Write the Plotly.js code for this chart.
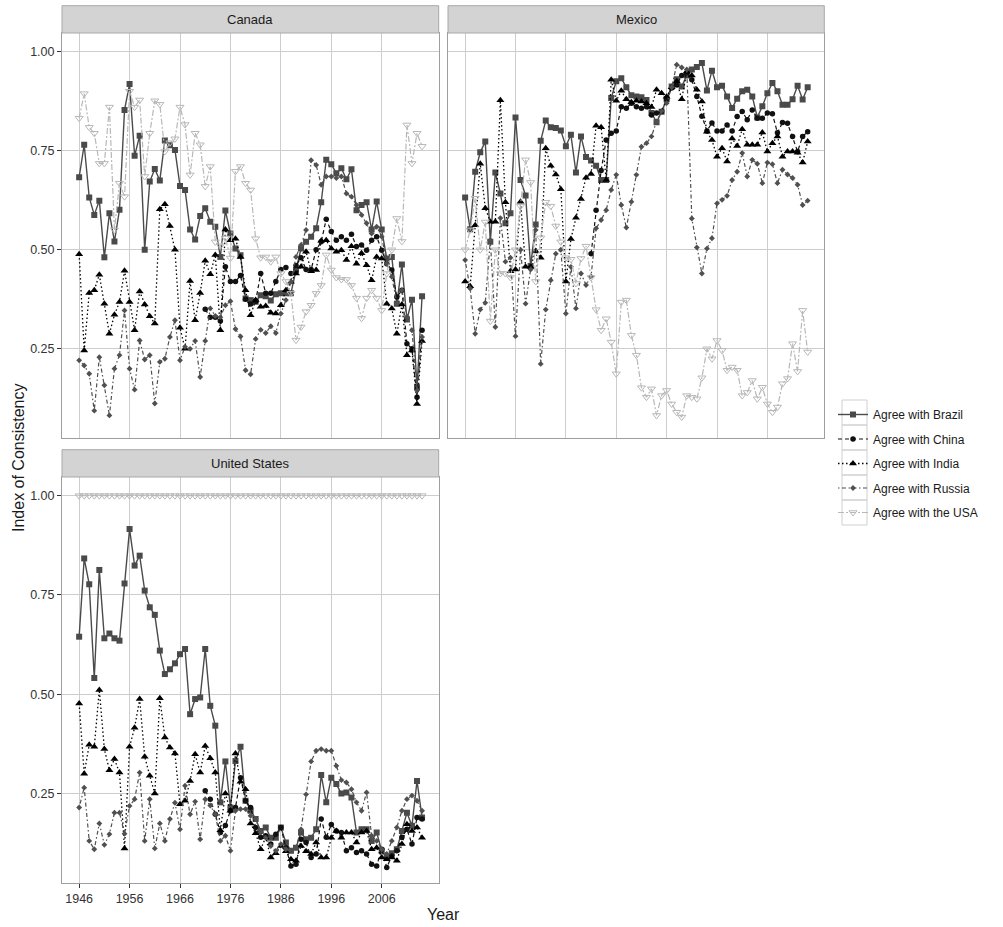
<!DOCTYPE html>
<html><head><meta charset="utf-8">
<script src="https://cdn.plot.ly/plotly-3.0.1.min.js"></script>
<style>html,body{margin:0;padding:0;background:#fff}</style>
</head><body><div id="chart" style="width:1003px;height:927px"></div>
<script>
const years = [1946,1947,1948,1949,1950,1951,1952,1953,1954,1955,
1956,1957,1958,1959,1960,1961,1962,1963,1964,1965,
1966,1967,1968,1969,1970,1971,1972,1973,1974,1975,
1976,1977,1978,1979,1980,1981,1982,1983,1984,1985,
1986,1987,1988,1989,1990,1991,1992,1993,1994,1995,
1996,1997,1998,1999,2000,2001,2002,2003,2004,2005,
2006,2007,2008,2009,2010,2011,2012,2013,2014];

const seriesNames = ['Agree with Brazil','Agree with China','Agree with India','Agree with Russia','Agree with the USA'];
const panels = ['Canada','Mexico','United States'];
const xTicks = [1946,1956,1966,1976,1986,1996,2006];
const yTicks = [0.25,0.50,0.75,1.00];
const yTickText = ['0.25','0.50','0.75','1.00'];

const canadaBrazil = [0.683,0.765,0.632,0.588,0.624,0.481,0.592,0.521,0.601,0.853,
0.918,0.737,0.788,0.500,0.672,0.704,0.675,0.776,0.764,0.752,
0.661,0.651,0.551,0.526,0.585,0.605,0.571,0.558,0.482,0.599,
0.541,0.503,0.486,0.377,0.373,0.369,0.385,0.383,0.372,0.388,
0.390,0.390,0.390,0.449,0.503,0.520,0.533,0.554,0.620,0.727,
0.716,0.693,0.706,0.678,0.703,0.600,0.613,0.620,0.551,0.622,
0.551,0.478,0.482,0.364,0.463,0.324,0.374,0.153,0.383];
const canadaChina = [null,null,null,null,null,null,null,null,null,null,
null,null,null,null,null,null,null,null,null,null,
null,null,null,null,null,0.350,0.330,0.330,0.320,0.457,
0.420,0.420,0.435,0.375,0.363,0.370,0.440,0.390,0.390,0.420,
0.450,0.455,0.440,0.460,0.480,0.450,0.450,0.500,0.520,0.577,
0.546,0.524,0.533,0.524,0.539,0.508,0.512,0.499,0.524,0.533,
0.499,0.465,0.449,0.381,0.398,0.263,0.250,0.128,0.297];
const canadaIndia = [0.489,0.246,0.391,0.398,0.437,0.364,0.288,0.336,0.368,0.447,
0.368,0.297,0.395,0.362,0.332,0.314,0.602,0.615,0.560,0.500,
0.303,0.250,0.421,0.322,0.391,0.472,0.438,0.487,0.297,0.551,
0.524,0.528,0.482,0.398,0.335,0.373,0.356,0.358,0.341,0.339,
0.360,0.398,0.419,0.440,0.457,0.495,0.446,0.449,0.523,0.524,
0.503,0.495,0.499,0.474,0.509,0.465,0.491,0.461,0.423,0.482,
0.478,0.364,0.352,0.288,0.362,0.234,0.246,0.111,0.270];
const canadaRussia = [0.221,0.208,0.187,0.094,0.229,0.158,0.082,0.200,0.234,0.347,
0.200,0.147,0.271,0.223,0.234,0.112,0.217,0.225,0.280,0.322,
0.221,0.255,0.250,0.270,0.179,0.270,0.352,0.333,0.330,0.360,
0.370,0.300,0.281,0.196,0.186,0.275,0.298,0.290,0.307,0.290,
0.339,0.373,0.419,0.482,0.512,0.550,0.726,0.714,0.664,0.685,
0.685,0.681,0.685,0.642,0.634,0.613,0.588,0.567,0.541,0.558,
0.533,0.465,0.432,0.364,0.398,0.331,0.297,0.145,0.280];
const canadaUSA = [0.832,0.894,0.809,0.794,0.718,0.718,0.860,0.550,0.668,0.634,
0.900,0.860,0.878,0.685,0.794,0.876,0.867,0.748,0.770,0.780,
0.860,0.816,0.689,0.794,0.765,0.660,0.710,0.520,0.510,0.530,
0.479,0.698,0.710,0.668,0.651,0.528,0.480,0.482,0.470,0.482,
0.440,0.420,0.390,0.272,0.305,0.344,0.360,0.390,0.410,0.487,
0.449,0.430,0.425,0.425,0.410,0.378,0.327,0.378,0.398,0.378,
0.347,0.440,0.500,0.579,0.521,0.815,0.718,0.794,0.761];

const mexicoBrazil = [0.632,0.552,0.697,0.746,0.773,0.520,0.695,0.642,0.567,0.592,
0.834,0.676,0.637,0.459,0.564,0.775,0.826,0.809,0.807,0.801,
0.761,0.790,0.695,0.786,0.734,0.725,0.712,0.676,0.676,0.883,
0.925,0.933,0.910,0.890,0.887,0.885,0.878,0.845,0.822,0.848,
0.880,0.912,0.930,0.912,0.940,0.955,0.961,0.971,0.902,0.952,
0.910,0.914,0.887,0.858,0.881,0.900,0.904,0.887,0.834,0.862,
0.895,0.921,0.900,0.866,0.866,0.880,0.914,0.879,0.910];
const mexicoChina = [null,null,null,null,null,null,null,null,null,null,
null,null,null,null,null,null,null,null,null,null,
null,null,null,null,null,0.490,0.600,0.700,0.777,0.794,
0.800,0.861,0.857,0.870,0.861,0.857,0.861,0.840,0.845,0.849,
0.880,0.908,0.916,0.940,0.945,0.929,0.887,0.837,0.800,0.820,
0.800,0.800,0.815,0.800,0.836,0.849,0.828,0.853,0.832,0.832,
0.845,0.843,0.795,0.821,0.819,0.786,0.748,0.786,0.798];
const mexicoIndia = [0.420,0.408,0.562,0.717,0.605,0.571,0.571,0.877,0.620,0.446,
0.450,0.621,0.457,0.457,0.497,0.480,0.756,0.712,0.690,0.653,
0.420,0.527,0.581,0.628,0.682,0.691,0.813,0.809,0.676,0.929,
0.876,0.901,0.880,0.872,0.876,0.874,0.870,0.860,0.904,0.895,
0.886,0.910,0.925,0.880,0.950,0.940,0.904,0.874,0.798,0.777,
0.735,0.756,0.723,0.781,0.762,0.804,0.765,0.765,0.765,0.796,
0.748,0.769,0.786,0.735,0.748,0.748,0.745,0.720,0.773];
const mexicoRussia = [0.474,0.402,0.288,0.349,0.366,0.524,0.305,0.580,0.470,0.480,
0.282,0.500,0.364,0.450,0.550,0.212,0.349,0.423,0.490,0.500,
0.339,0.457,0.352,0.440,0.411,0.433,0.554,0.575,0.600,0.651,
0.689,0.613,0.556,0.621,0.689,0.760,0.769,0.786,0.824,0.850,
0.870,0.910,0.967,0.960,0.955,0.579,0.506,0.440,0.503,0.529,
0.617,0.626,0.636,0.676,0.697,0.744,0.685,0.727,0.717,0.668,
0.720,0.716,0.668,0.702,0.690,0.681,0.664,0.613,0.624];
const mexicoUSA = [0.500,0.550,0.630,0.500,0.570,0.320,0.500,0.440,0.440,0.430,
0.500,0.610,0.727,0.670,0.420,0.530,0.620,0.610,0.560,0.520,
0.480,0.476,0.415,0.478,0.509,0.430,0.349,0.297,0.326,0.267,
0.187,0.368,0.373,0.284,0.234,0.152,0.128,0.149,0.082,0.132,
0.145,0.111,0.090,0.078,0.132,0.128,0.124,0.177,0.250,0.225,
0.271,0.246,0.196,0.204,0.196,0.132,0.140,0.170,0.124,0.153,
0.111,0.090,0.103,0.162,0.175,0.263,0.193,0.347,0.242];

const usBrazil = [0.645,0.842,0.777,0.541,0.813,0.641,0.653,0.641,0.635,0.779,
0.916,0.824,0.849,0.761,0.719,0.700,0.610,0.551,0.563,0.578,
0.601,0.614,0.450,0.488,0.492,0.614,0.471,0.421,0.228,0.331,
0.215,0.332,0.368,0.232,0.207,0.186,0.156,0.165,0.139,0.139,
0.165,0.127,0.106,0.114,0.152,0.135,0.139,0.160,0.297,0.228,
0.290,0.274,0.250,0.253,0.240,0.152,0.160,0.160,0.131,0.152,
0.106,0.089,0.100,0.110,0.156,0.202,0.169,0.282,0.190];
const usChina = [null,null,null,null,null,null,null,null,null,null,
null,null,null,null,null,null,null,null,null,null,
null,null,null,null,null,0.257,0.236,0.198,0.152,0.170,
0.207,0.215,0.290,0.232,0.215,0.165,0.140,0.144,0.123,0.148,
0.165,0.114,0.068,0.072,0.135,0.127,0.089,0.098,0.186,0.140,
0.172,0.156,0.152,0.106,0.114,0.102,0.106,0.098,0.072,0.068,
0.110,0.064,0.093,0.106,0.140,0.160,0.123,0.190,0.186];
const usIndia = [0.477,0.300,0.373,0.368,0.511,0.362,0.309,0.337,0.303,0.112,
0.368,0.416,0.488,0.343,0.295,0.250,0.490,0.391,0.366,0.351,
0.223,0.232,0.282,0.349,0.303,0.370,0.339,0.303,0.158,0.250,
0.207,0.351,0.280,0.261,0.175,0.150,0.110,0.140,0.089,0.100,
0.118,0.105,0.085,0.081,0.118,0.105,0.098,0.127,0.089,0.089,
0.139,0.156,0.139,0.152,0.152,0.127,0.152,0.156,0.110,0.114,
0.089,0.085,0.089,0.081,0.123,0.173,0.156,0.165,0.139];
const usRussia = [0.215,0.265,0.131,0.110,0.175,0.121,0.148,0.202,0.202,0.149,
0.219,0.236,0.303,0.131,0.236,0.112,0.175,0.131,0.186,0.227,
0.160,0.270,0.198,0.230,0.135,0.236,0.220,0.198,0.131,0.144,
0.106,0.207,0.211,0.211,0.194,0.186,0.152,0.139,0.118,0.106,
0.123,0.110,0.106,0.114,0.160,0.248,0.331,0.358,0.362,0.358,
0.358,0.320,0.284,0.278,0.261,0.228,0.207,0.253,0.144,0.131,
0.110,0.098,0.131,0.165,0.207,0.236,0.245,0.232,0.207];
const usUSA = [1,1,1,1,1,1,1,1,1,1,
1,1,1,1,1,1,1,1,1,1,
1,1,1,1,1,1,1,1,1,1,
1,1,1,1,1,1,1,1,1,1,
1,1,1,1,1,1,1,1,1,1,
1,1,1,1,1,1,1,1,1,1,
1,1,1,1,1,1,1,1,1];

const panelData = [
  [canadaBrazil, canadaChina, canadaIndia, canadaRussia, canadaUSA],
  [mexicoBrazil, mexicoChina, mexicoIndia, mexicoRussia, mexicoUSA],
  [usBrazil, usChina, usIndia, usRussia, usUSA]
];

const styles = [
  {color:'#4a4a4a', dash:'solid', symbol:'square', size:6, width:1.4},
  {color:'#111111', dash:'4px,3px', symbol:'circle', size:5.5, width:1.2},
  {color:'#000000', dash:'1.5px,2.5px', symbol:'triangle-up', size:7, width:1.3},
  {color:'#505050', dash:'1.5px,2.5px,4px,2.5px', symbol:'diamond', size:4.5, width:1.2},
  {color:'#b8b8b8', dash:'6px,2px,2px,2px', symbol:'triangle-down-open', size:7, width:1.2}
];
const axisIds = [['x','y'],['x2','y2'],['x3','y3']];

const traces = [];
panelData.forEach((series, p) => {
  series.forEach((vals, s) => {
    const st = styles[s];
    traces.push({
      type:'scatter', mode:'lines+markers',
      x: years, y: vals,
      xaxis: axisIds[p][0], yaxis: axisIds[p][1],
      name: seriesNames[s], legendgroup: seriesNames[s],
      showlegend: p === 0,
      connectgaps: false,
      line: {color: st.color, dash: st.dash, width: st.width},
      marker: {color: st.color, symbol: st.symbol, size: st.size,
               line: {color: st.color, width: st.symbol.indexOf('open')>=0 ? 1 : 0}},
      hoverinfo:'skip'
    });
  });
});

const W = 1003, H = 927;
const px = v => v / W;
const py = v => 1 - v / H;
const FONT = '"Liberation Sans", Arial, Helvetica, sans-serif';

const baseX = {
  range:[1942.6, 2017.3], tickvals: xTicks, ticktext: xTicks.map(String),
  showgrid:true, gridcolor:'#cdcdcd', gridwidth:1, zeroline:false,
  showline:true, mirror:true, linecolor:'#9e9e9e', linewidth:1,
  fixedrange:true
};
const baseY = {
  range:[0.025, 1.047], tickvals: yTicks, ticktext: yTickText,
  showgrid:true, gridcolor:'#cdcdcd', gridwidth:1, zeroline:false,
  showline:true, mirror:true, linecolor:'#9e9e9e', linewidth:1,
  fixedrange:true
};
const tickOn = {ticks:'outside', ticklen:4, tickwidth:1, tickcolor:'#333333',
  showticklabels:true, tickfont:{family:FONT, size:12.5, color:'#333333'}};
const tickOff = {ticks:'', showticklabels:false};

const colL = [px(62), px(438.7)], colR = [px(448), px(824.3)];
const rowT = [py(438), py(33)], rowB = [py(883), py(477)];

const layout = {
  width: W, height: H, autosize:false,
  margin:{l:0, r:0, t:0, b:0, pad:0},
  paper_bgcolor:'#ffffff', plot_bgcolor:'#ffffff',
  font:{family:FONT, color:'#1a1a1a'},
  xaxis: Object.assign({}, baseX, tickOff, {domain:colL, anchor:'y'}),
  yaxis: Object.assign({}, baseY, tickOn, {domain:rowT, anchor:'x'}),
  xaxis2: Object.assign({}, baseX, tickOff, {domain:colR, anchor:'y2'}),
  yaxis2: Object.assign({}, baseY, tickOff, {domain:rowT, anchor:'x2'}),
  xaxis3: Object.assign({}, baseX, tickOn, {domain:colL, anchor:'y3'}),
  yaxis3: Object.assign({}, baseY, tickOn, {domain:rowB, anchor:'x3'}),
  showlegend:true,
  legend:{x: px(833), y: py(400), xanchor:'left', yanchor:'top',
    font:{family:FONT, size:12, color:'#1a1a1a'},
    bgcolor:'rgba(0,0,0,0)', borderwidth:0, traceorder:'grouped', tracegroupgap:5.5,
    itemwidth:30},
  shapes: [],
  annotations: []
};

const strips = [
  {name: panels[0], x0:62, x1:438.7, y0:5.7, y1:33},
  {name: panels[1], x0:448, x1:824.3, y0:5.7, y1:33},
  {name: panels[2], x0:62, x1:438.7, y0:449.7, y1:477}
];
strips.forEach(s => {
  layout.shapes.push({type:'rect', xref:'paper', yref:'paper',
    x0:px(s.x0), x1:px(s.x1), y0:py(s.y1), y1:py(s.y0),
    fillcolor:'#d3d3d3', line:{color:'#a8a8a8', width:1}, layer:'above'});
  layout.annotations.push({xref:'paper', yref:'paper', x:px((s.x0+s.x1)/2), y:py((s.y0+s.y1)/2),
    text:s.name, showarrow:false, xanchor:'center', yanchor:'middle',
    font:{family:FONT, size:13, color:'#1a1a1a'}});
});
// legend key boxes
for (let i = 0; i < 5; i++) {
  layout.shapes.push({type:'rect', xref:'paper', yref:'paper',
    x0:px(842), x1:px(867), y0:py(425 + 25*i), y1:py(400 + 25*i),
    fillcolor:'rgba(0,0,0,0)', line:{color:'#d0d0d0', width:1}, layer:'below'});
}
layout.annotations.push({xref:'paper', yref:'paper', x:px(443), y:py(914),
  text:'Year', showarrow:false, xanchor:'center', yanchor:'middle',
  font:{family:FONT, size:16, color:'#1a1a1a'}});
layout.annotations.push({xref:'paper', yref:'paper', x:px(18), y:py(458),
  text:'Index of Consistency', showarrow:false, xanchor:'center', yanchor:'middle',
  textangle:-90, font:{family:FONT, size:16, color:'#1a1a1a'}});

Plotly.newPlot('chart', traces, layout, {staticPlot:true, displayModeBar:false});
</script>
</body></html>
